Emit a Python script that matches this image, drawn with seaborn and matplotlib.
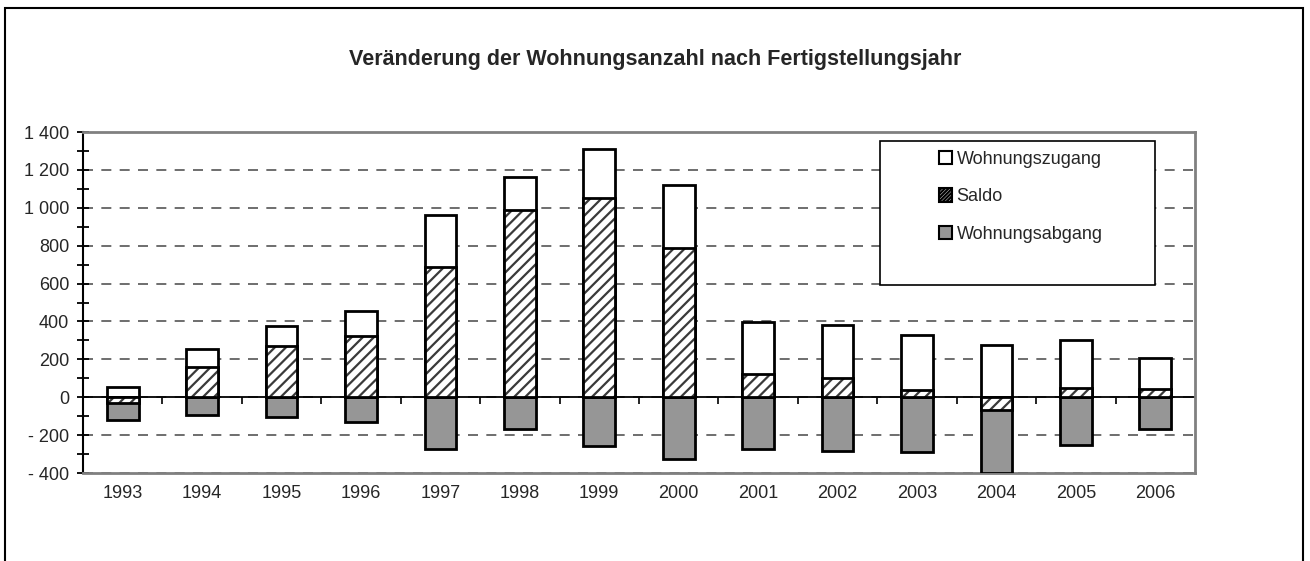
import numpy as np
import pandas as pd
import seaborn as sns
import matplotlib.pyplot as plt
from matplotlib.patches import Patch, Rectangle
from matplotlib.ticker import MultipleLocator, FuncFormatter

# data
years = ["1993", "1994", "1995", "1996", "1997", "1998", "1999",
         "2000", "2001", "2002", "2003", "2004", "2005", "2006"]
zugang = [55, 257, 377, 456, 962, 1163, 1310, 1119, 397, 380, 327, 274, 301, 209]
saldo = [-33, 160, 271, 324, 690, 987, 1050, 790, 121, 99, 37, -65, 49, 42]
abgang = [-118, -95, -105, -130, -272, -170, -259, -327, -274, -285, -290, -400, -253, -170]

df = pd.DataFrame({"Jahr": years, "Wohnungszugang": zugang,
                   "Saldo": saldo, "Wohnungsabgang": abgang})

sns.set_style("white")
plt.rcParams["font.family"] = ["Liberation Sans Narrow", "Liberation Sans", "DejaVu Sans"]
plt.rcParams["hatch.linewidth"] = 1.6

fig = plt.figure(figsize=(13.1, 5.61), dpi=100)
ax = fig.add_axes([83 / 1310, 88 / 561, 1112 / 1310, 341 / 561])

grey = "#969696"
common = dict(data=df, x="Jahr", order=years, width=0.4, errorbar=None,
              saturation=1, ax=ax)

sns.barplot(y="Wohnungszugang", color="white", edgecolor="black",
            linewidth=2, zorder=3, **common)
sns.barplot(y="Wohnungsabgang", color=grey, edgecolor="black",
            linewidth=2, zorder=3, **common)
sns.barplot(y="Saldo", color="white", edgecolor="#3a3a3a", hatch="///",
            linewidth=0, zorder=4, **common)
sns.barplot(y="Saldo", fill=False, edgecolor="black", linewidth=2,
            zorder=5, **common)

ymin, ymax = -400, 1400
ax.set_ylim(ymin, ymax)
ax.set_xlim(-0.5, len(years) - 0.5)
ax.set_xlabel("")
ax.set_ylabel("")

# grid and zero line
ax.set_axisbelow(True)
ax.yaxis.grid(True, linestyle=(0, (6, 5)), color="#555555", linewidth=1.2)
ax.xaxis.grid(False)
ax.axhline(0, color="black", linewidth=1.3, zorder=2)

# y axis
ax.yaxis.set_major_locator(MultipleLocator(200))
ax.yaxis.set_minor_locator(MultipleLocator(100))


def fmt(v, pos):
    s = f"{abs(int(v)):,}".replace(",", " ")
    return "- " + s if v < 0 else s


ax.yaxis.set_major_formatter(FuncFormatter(fmt))
ax.tick_params(axis="y", which="both", direction="inout", length=8,
               width=1.3, color="black", labelsize=13, pad=6, left=True)
ax.tick_params(axis="x", length=0, labelsize=13, pad=9)

for side in ["top", "right", "bottom"]:
    ax.spines[side].set_color("#808080")
    ax.spines[side].set_linewidth(2)
ax.spines["left"].set_color("black")
ax.spines["left"].set_linewidth(1.5)

# small ticks between categories on the zero line
loc = (0 - ymin) / (ymax - ymin)
sec = ax.secondary_xaxis(loc)
sec.set_xticks(np.arange(0.5, len(years) - 1, 1.0))
sec.set_xticklabels([])
sec.tick_params(length=5, width=1.2, color="black", direction="out")
sec.spines["bottom"].set_visible(False)

# legend
handles = [
    Patch(facecolor="white", edgecolor="black", linewidth=1.5, label="Wohnungszugang"),
    Patch(facecolor="white", edgecolor="black", linewidth=1.5, hatch="/////////", label="Saldo"),
    Patch(facecolor=grey, edgecolor="black", linewidth=1.5, label="Wohnungsabgang"),
]
lx0 = (880 - 83) / 1112
ly0 = (473 - 285) / 341
lw_ = (1155 - 880) / 1112
lh_ = (285 - 141) / 341
ax.add_patch(Rectangle((lx0, ly0), lw_, lh_, transform=ax.transAxes,
                       facecolor="white", edgecolor="black", linewidth=1.2,
                       zorder=6))
leg = ax.legend(handles=handles, loc="upper left",
                bbox_to_anchor=((926 - 83) / 1112, (473 - 138) / 341),
                frameon=False, fontsize=13, handlelength=0.75,
                handleheight=0.75, handletextpad=0.25, labelspacing=1.15,
                borderpad=0.2)
leg.set_zorder(7)

fig.text(655 / 1310, 1 - 59 / 561, "Veränderung der Wohnungsanzahl nach Fertigstellungsjahr",
         ha="center", va="center", fontsize=15.5, fontweight="bold")

# outer chart frame
fig.patches.append(Rectangle((5 / 1310, -0.05), 1298 / 1310, 1.05 - 8 / 561,
                             transform=fig.transFigure, fill=False,
                             edgecolor="black", linewidth=1.5))

fig.savefig("out.png", dpi=100)
